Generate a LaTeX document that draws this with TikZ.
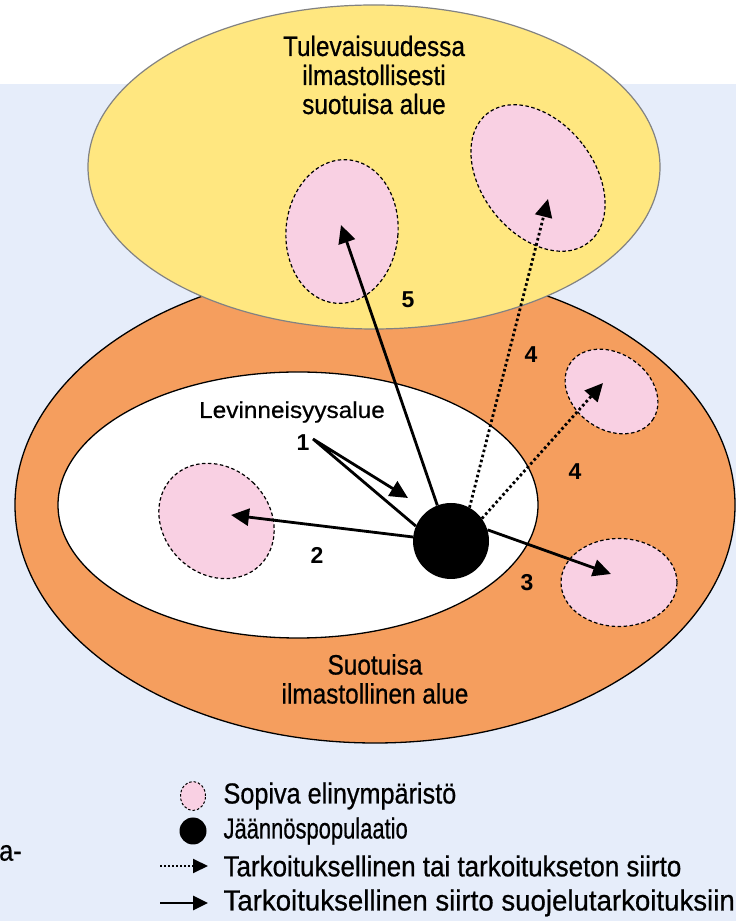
\documentclass[tikz,border=0pt]{standalone}
\usepackage{fontspec}
\usepackage{graphicx}
\setmainfont{Liberation Sans}
\newfontfamily\condf[FakeStretch=0.87,FakeBold=0.6]{Liberation Sans}
\newfontfamily\widef[FakeStretch=1.06,FakeBold=0.6]{Liberation Sans}
\usetikzlibrary{arrows.meta,shapes.geometric}
\definecolor{bgblue}{RGB}{230,237,250}
\definecolor{sunyellow}{RGB}{255,231,128}
\definecolor{warmorange}{RGB}{245,158,94}
\definecolor{habpink}{RGB}{249,208,227}
\definecolor{rimgray}{RGB}{130,130,130}
\begin{document}
\begin{tikzpicture}[x=1pt,y=1pt,
  zone/.style={ellipse, inner sep=0pt, line width=1.3pt},
  habitat/.style={ellipse, inner sep=0pt, draw=black, fill=habpink, line width=1.2pt, dash pattern=on 3.5pt off 2.5pt},
  popdot/.style={circle, fill=black, inner sep=0pt},
  tipstyle/.style={-{Triangle[length=18pt,width=17pt]}},
  solidarrow/.style={tipstyle, line width=2.8pt},
  dotarrow/.style={tipstyle, line width=2.8pt, dash pattern=on 2.6pt off 2.6pt},
  numlabel/.style={font=\bfseries\fontsize{23}{23}\selectfont},
  biglabel/.style={font=\condf\fontsize{28}{29}\selectfont, align=center},
  leglabel/.style={font=\condf\fontsize{29}{29}\selectfont, anchor=west}
]
\useasboundingbox (0,0) rectangle (736,921);
\fill[white] (0,0) rectangle (736,921);
\fill[bgblue] (0,0) rectangle (736,837);

% zones
\node[zone, draw=black, fill=warmorange, minimum width=720, minimum height=476] (climate) at (375,416) {};
\node[zone, draw=black, fill=white, minimum width=480, minimum height=266] (range) at (298,416) {};
\node[zone, draw=rimgray, line width=1.2pt, fill=sunyellow, minimum width=572, minimum height=324] (future) at (374,754) {};

% habitats
\node[habitat, minimum width=106, minimum height=124, rotate=45] (habA) at (216.5,400) {};
\node[habitat, minimum width=112, minimum height=144, rotate=-5] (habB) at (342,689.5) {};
\node[habitat, minimum width=112, minimum height=164, rotate=38] (habC) at (538,743) {};
\node[habitat, minimum width=100, minimum height=76, rotate=-35] (habD) at (611.5,529.5) {};
\node[habitat, minimum width=116, minimum height=88] (habE) at (619,338.5) {};

% population
\node[popdot, minimum size=76] (pop) at (451,380) {};

% arrow ends
\coordinate (p1) at (313,482);
\coordinate (t1) at (408,423);
\coordinate (t2) at (231,406);
\coordinate (t3) at (611,347);
\coordinate (t4a) at (548,722);
\coordinate (t4b) at (603,538);
\coordinate (t5) at (341,696);

\draw[solidarrow] (pop.157) -- (p1) -- (t1);
\draw[solidarrow] (pop.174) -- (t2);
\draw[solidarrow] (pop.17) -- (t3);
\draw[dotarrow] (pop.61) -- (t4a);
\draw[dotarrow] (pop.36) -- (t4b);
\draw[solidarrow] (pop.111) -- (t5);

% labels
\node[biglabel] (futuretxt) at (374,846) {Tulevaisuudessa\\ilmastollisesti\\suotuisa alue};
\node[biglabel] (climatetxt) at (375,242) {Suotuisa\\ilmastollinen alue};
\node[font=\widef\fontsize{23}{23}\selectfont] (rangetxt) at (292,509) {Levinneisyysalue};
\node[numlabel] (n1) at (303,478) {1};
\node[numlabel] (n2) at (317,366) {2};
\node[numlabel] (n3) at (527,338) {3};
\node[numlabel] (n4a) at (531,566) {4};
\node[numlabel] (n4b) at (575,449) {4};
\node[numlabel] (n5) at (408,621) {5};

% legend
\node[habitat, line width=1pt, dash pattern=on 2.5pt off 2pt, minimum width=25, minimum height=29] (leghab) at (193,125) {};
\node[popdot, minimum size=27] (legpop) at (193,90) {};
\coordinate (ld0) at (160,55);
\coordinate (ld1) at (208,55);
\coordinate (ls0) at (160,18);
\coordinate (ls1) at (208,18);
\draw[-{Triangle[length=15pt,width=14pt]}, line width=2pt, dash pattern=on 2pt off 2pt] (ld0) -- (ld1);
\draw[-{Triangle[length=15pt,width=14pt]}, line width=2.8pt] (ls0) -- (ls1);
\node[leglabel] (lt1) at (220,125) {Sopiva elinympäristö};
\node[leglabel] (lt2) at (220,90) {\scalebox{0.87}[1]{Jäännöspopulaatio}};
\node[leglabel] (lt3) at (220,55) {\scalebox{1.03}[1]{Tarkoituksellinen tai tarkoitukseton siirto}};
\node[leglabel] (lt4) at (220,18) {\scalebox{1.095}[1]{Tarkoituksellinen siirto suojelutarkoituksiin}};
\node[leglabel, inner sep=0pt] (cut) at (-1,68) {a-};
\end{tikzpicture}
\end{document}
